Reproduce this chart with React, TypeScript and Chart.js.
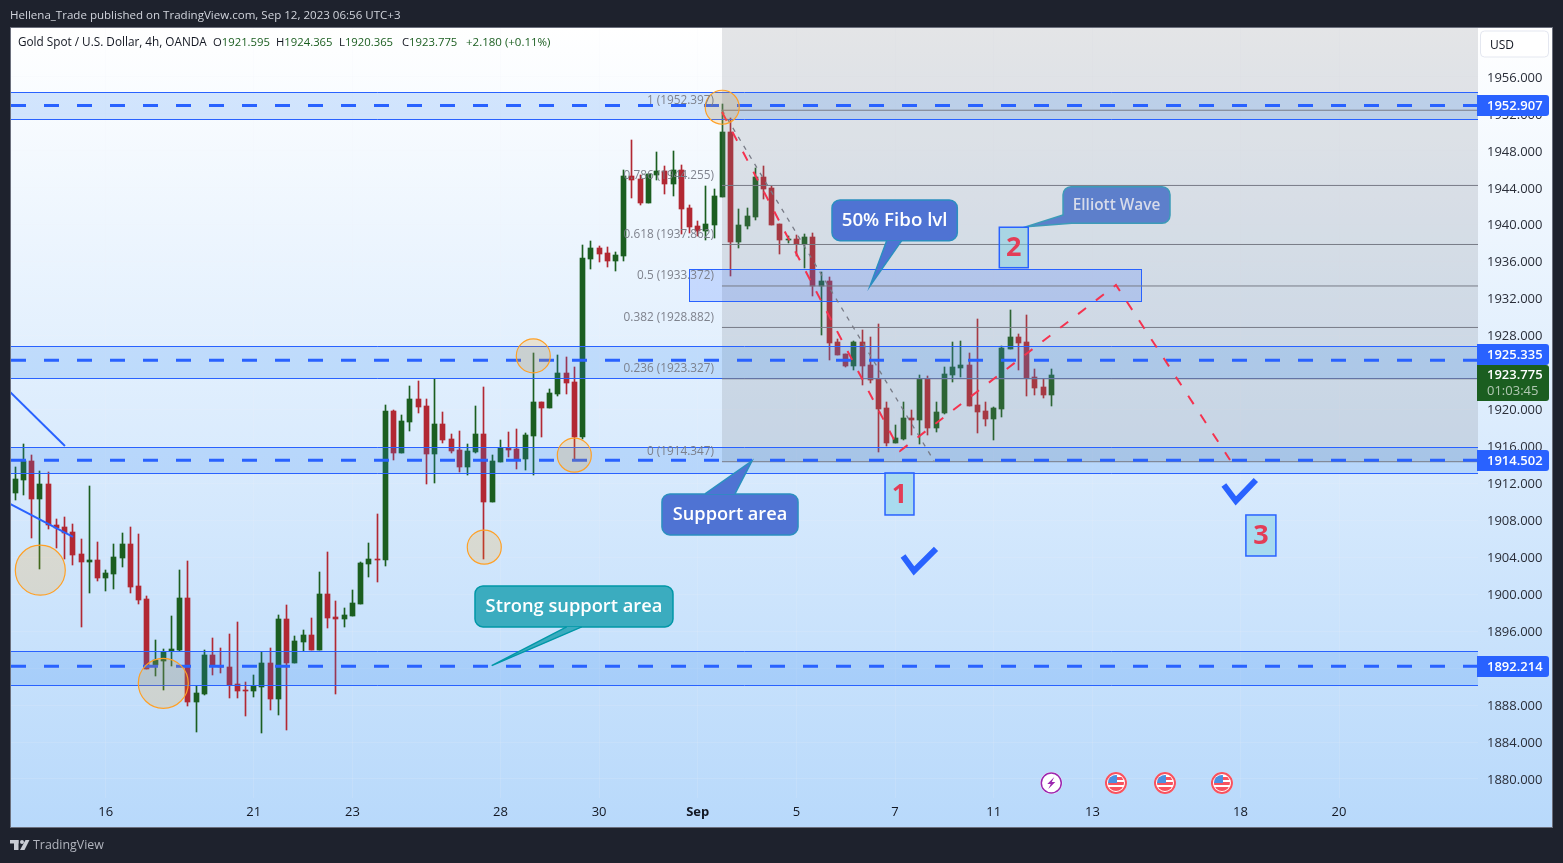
import React, { useEffect, useRef } from "react";
import { Chart, registerables } from "chart.js";

Chart.register(...registerables);

// ---------- candle data (4h bars, index = bar number) ----------
const opens = [
  1911.0, 1912.4, 1914.39, 1910.35, 1911.93, 1907.49, 1907.28, 1906.74, 1904.35, 1903.52,
  1903.7, 1901.79, 1902.23, 1903.96, 1905.44, 1900.89, 1899.48, 1892.34, 1892.81, 1893.85,
  1893.96, 1899.59, 1888.37, 1889.23, 1893.42, 1892.23, 1892.12, 1890.28, 1889.63, 1889.56,
  1889.99, 1892.55, 1888.69, 1897.32, 1892.59, 1894.83, 1895.59, 1893.96, 1900.03, 1897.54,
  1897.32, 1897.65, 1898.95, 1903.28, 1903.82, 1903.71, 1919.84, 1915.29, 1918.65, 1921.14,
  1920.38, 1915.19, 1918.43, 1916.81, 1915.62, 1913.78, 1915.4, 1917.35, 1909.99, 1914.32,
  1915.84, 1915.73, 1914.64, 1917.13, 1920.82, 1920.17, 1921.68, 1923.96, 1922.98, 1917.03,
  1936.3, 1937.49, 1936.94, 1936.08, 1936.62, 1945.28, 1944.96, 1942.36, 1945.39, 1945.82,
  1944.42, 1945.93, 1941.82, 1939.87, 1939.33, 1939.98, 1943.01, 1950.05, 1938.14, 1939.87,
  1940.84, 1945.18, 1943.98, 1940.08, 1938.35, 1938.46, 1937.92, 1938.67, 1933.37, 1933.91,
  1927.31, 1926.01, 1924.71, 1927.31, 1924.82, 1923.3, 1920.16, 1916.37, 1916.81, 1919.08,
  1918.86, 1923.3, 1918.0, 1919.62, 1923.74, 1924.5, 1924.82, 1920.49, 1919.84, 1918.97,
  1920.06, 1926.55, 1927.85, 1927.31, 1923.52, 1922.44, 1921.595,
];
const highs = [
  1913.77, 1916.26, 1915.07, 1913.3, 1913.23, 1908.14, 1908.36, 1907.6, 1905.98, 1911.72,
  1905.65, 1902.62, 1905.44, 1906.63, 1907.28, 1906.52, 1899.81, 1895.04, 1894.07, 1897.64,
  1902.62, 1903.6, 1890.06, 1893.96, 1895.26, 1894.18, 1895.69, 1896.99, 1890.5, 1891.25,
  1893.74, 1894.18, 1897.75, 1898.83, 1895.48, 1896.13, 1897.43, 1902.41, 1904.57, 1899.27,
  1898.51, 1900.46, 1903.49, 1905.55, 1908.69, 1920.49, 1919.95, 1919.41, 1922.55, 1923.09,
  1921.14, 1923.31, 1919.73, 1917.35, 1917.68, 1916.27, 1920.38, 1922.44, 1915.08, 1916.7,
  1917.57, 1917.89, 1917.46, 1926.11, 1920.82, 1922.22, 1925.9, 1925.68, 1924.6, 1937.81,
  1938.24, 1937.7, 1937.59, 1937.05, 1945.93, 1949.18, 1945.39, 1945.5, 1947.88, 1946.36,
  1947.99, 1946.47, 1942.14, 1940.41, 1944.2, 1943.87, 1953.08, 1951.56, 1941.71, 1941.82,
  1946.15, 1946.36, 1944.2, 1940.08, 1938.78, 1938.89, 1939.0, 1939.11, 1934.88, 1934.34,
  1927.63, 1926.01, 1927.42, 1928.61, 1927.85, 1929.26, 1920.81, 1918.32, 1920.81, 1919.95,
  1923.74, 1923.63, 1920.81, 1924.6, 1927.31, 1927.42, 1926.12, 1929.8, 1920.81, 1920.27,
  1926.88, 1930.77, 1928.18, 1930.23, 1924.39, 1923.3, 1924.365,
];
const lows = [
  1910.24, 1910.78, 1906.12, 1902.77, 1907.1, 1905.04, 1903.85, 1903.2, 1896.49, 1900.17,
  1901.47, 1900.38, 1900.6, 1902.98, 1900.17, 1898.98, 1891.94, 1891.18, 1889.67, 1892.26,
  1893.85, 1887.93, 1885.12, 1889.12, 1891.29, 1891.51, 1888.8, 1888.8, 1886.85, 1888.91,
  1885.01, 1887.5, 1886.96, 1885.34, 1892.59, 1893.86, 1893.96, 1893.96, 1896.35, 1889.24,
  1896.46, 1897.65, 1898.95, 1901.87, 1901.33, 1903.06, 1914.54, 1915.29, 1917.68, 1919.62,
  1911.94, 1912.05, 1916.38, 1915.29, 1913.24, 1912.91, 1915.29, 1903.82, 1909.99, 1914.32,
  1914.86, 1913.56, 1913.45, 1912.91, 1917.03, 1920.17, 1921.47, 1921.68, 1914.64, 1916.81,
  1935.21, 1935.97, 1935.43, 1935.0, 1936.08, 1942.9, 1942.14, 1942.36, 1944.85, 1943.33,
  1943.12, 1939.0, 1939.11, 1938.79, 1938.35, 1938.57, 1943.01, 1934.45, 1937.49, 1939.54,
  1940.52, 1942.79, 1939.97, 1936.83, 1938.02, 1936.62, 1935.32, 1932.29, 1928.07, 1925.36,
  1925.9, 1924.6, 1924.28, 1922.65, 1922.87, 1915.4, 1916.05, 1916.37, 1916.7, 1917.24,
  1916.27, 1917.24, 1917.57, 1919.51, 1922.98, 1923.52, 1920.38, 1917.46, 1918.22, 1916.7,
  1919.19, 1926.55, 1924.28, 1921.46, 1921.57, 1921.25, 1920.365,
];
const closes = [
  1912.47, 1914.39, 1910.35, 1911.93, 1907.46, 1907.21, 1906.63, 1904.28, 1903.52, 1903.7,
  1901.79, 1902.3, 1904.03, 1905.44, 1900.82, 1899.41, 1891.94, 1892.88, 1893.78, 1894.07,
  1899.59, 1888.37, 1889.31, 1893.42, 1892.23, 1892.08, 1890.17, 1889.56, 1889.56, 1890.06,
  1892.55, 1888.69, 1897.32, 1892.59, 1894.94, 1895.59, 1893.96, 1900.03, 1897.43, 1897.32,
  1897.75, 1899.05, 1903.38, 1903.82, 1903.71, 1919.84, 1915.29, 1918.76, 1921.14, 1920.27,
  1915.19, 1918.43, 1916.7, 1915.51, 1913.78, 1915.51, 1917.35, 1909.99, 1914.43, 1915.84,
  1915.62, 1914.64, 1917.24, 1920.82, 1920.17, 1921.79, 1923.96, 1922.87, 1917.03, 1936.4,
  1937.49, 1936.84, 1936.08, 1936.73, 1945.28, 1944.85, 1942.36, 1945.5, 1945.82, 1944.42,
  1945.93, 1941.71, 1939.76, 1939.33, 1940.09, 1943.12, 1950.05, 1938.14, 1939.98, 1940.95,
  1945.18, 1943.87, 1939.97, 1938.35, 1938.46, 1937.92, 1938.67, 1933.37, 1933.91, 1927.2,
  1925.9, 1924.71, 1927.31, 1924.71, 1923.2, 1920.06, 1916.37, 1916.92, 1919.08, 1918.86,
  1923.3, 1918.0, 1919.73, 1923.85, 1924.6, 1924.82, 1920.38, 1919.73, 1918.97, 1920.16,
  1926.66, 1927.85, 1927.2, 1923.41, 1922.33, 1921.57, 1923.775,
];

// ---------- axes ----------
const xTickBars = [11, 29, 41, 59, 71, 83, 95, 107, 119, 131, 149, 161];
const xTickLabels = ["16", "21", "23", "28", "30", "Sep", "5", "7", "11", "13", "18", "20"];
const yTickValues = [
  1880, 1884, 1888, 1892, 1896, 1900, 1904, 1908, 1912, 1916, 1920, 1924, 1928, 1932, 1936, 1940, 1944,
  1948, 1952, 1956,
];

// ---------- horizontal levels and zones ----------
const levelPrices = [1952.907, 1925.335, 1914.502, 1892.214];
const zoneTops = [1954.32, 1926.88, 1915.91, 1893.83];
const zoneBottoms = [1951.4, 1923.38, 1913.1, 1890.15];

// ---------- fibonacci ----------
const fibRatios = ["1", "0.786", "0.618", "0.5", "0.382", "0.236", "0"];
const fibPrices = [1952.397, 1944.255, 1937.862, 1933.372, 1928.882, 1923.327, 1914.347];
const fibStartBar = 85.95;

// ---------- drawings (bar index, price) ----------
const wavePath = [
  [85.95, 1952.21],
  [107.6, 1915.51],
  [133.87, 1933.48],
  [147.74, 1914.54],
];
const trendPath = [
  [85.95, 1952.43],
  [111.74, 1914.43],
];
const leftLineA = [
  [-0.64, 1921.9],
  [6.04, 1916.05],
];
const leftLineB = [
  [-0.64, 1909.77],
  [7.02, 1906.2],
];
const checkA = [
  [107.97, 1904.14],
  [109.3, 1902.52],
  [111.98, 1904.9],
];
const checkB = [
  [146.99, 1911.83],
  [148.45, 1910.1],
  [150.88, 1912.37],
];
const circleBars = [3.04, 18.0, 57.04, 67.99, 63.0, 85.98];
const circlePrices = [1902.6, 1890.36, 1905.09, 1915.05, 1925.8, 1952.72];
const circleRadii = [25, 25, 17, 17, 17, 17];
const fiboBox = { x0: 81.94, x1: 136.91, top: 1935.16, bottom: 1931.7 };
const eventBars = [126, 133.87, 139.83, 146.76];

const callouts = [
  {
    text: "50% Fibo lvl", x0: 99.33, x1: 114.57, top: 1942.68, bottom: 1938.28,
    tail: [[105.98, 1938.28], [103.95, 1933.37], [107.81, 1938.28]],
    fill: "#4f73d3", stroke: "#2b8fc0", color: "#ffffff", size: 18.7,
  },
  {
    text: "Elliott Wave", x0: 127.43, x1: 140.44, top: 1944.12, bottom: 1940.16,
    tail: [[127.43, 1941.06], [122.93, 1939.79], [128.49, 1940.16]],
    fill: "#5d7fcb", stroke: "#3d9bb8", color: "#d7dbea", size: 15.4,
  },
  {
    text: "Support area", x0: 78.65, x1: 95.2, top: 1910.86, bottom: 1906.42,
    tail: [[83.88, 1910.86], [89.6, 1914.43], [87.53, 1910.86]],
    fill: "#4f73d3", stroke: "#2b8fc0", color: "#ffffff", size: 18.2,
  },
  {
    text: "Strong support area", x0: 55.91, x1: 79.99, top: 1900.9, bottom: 1896.46,
    tail: [[67.06, 1896.46], [57.94, 1892.27], [68.89, 1896.46]],
    fill: "#3bacbf", stroke: "#0097a7", color: "#ffffff", size: 18.3,
  },
];
const waveBoxes = [
  { text: "1", x0: 105.78, x1: 109.3, top: 1913.13, bottom: 1908.58 },
  { text: "2", x0: 119.68, x1: 123.2, top: 1939.73, bottom: 1935.35 },
  { text: "3", x0: 149.67, x1: 153.32, top: 1908.58, bottom: 1904.14 },
];

const headerText = "Hellena_Trade published on TradingView.com, Sep 12, 2023 06:56 UTC+3";
const symbolText = "Gold Spot / U.S. Dollar, 4h, OANDA";
const ohlcLabels = ["O", "H", "L", "C"];
const ohlcValues = ["1921.595", "1924.365", "1920.365", "1923.775"];
const changeText = "+2.180 (+0.11%)";
const priceBadges = ["1952.907", "1925.335", "1914.502", "1892.214"];
const lastPriceText = "1923.775";
const countdownText = "01:03:45";

const FONT = '"Open Sans", "Noto Sans", sans-serif';
const GREEN = "#1b5e20";
const RED = "#b22833";
const BLUE = "#2962ff";
const XMIN = -0.523;
const XMAX = 177.9;
const YMIN = 1877.94;
const YMAX = 1961.3;
// the platform nudges the labels so they do not collide with the last-price tag
const BADGE_SHIFTS = [0, -5.5, 0.5, 0.5];

const toPoints = (arr: number[][]) => arr.map(([x, y]) => ({ x, y }));
const flat = (y: number, x0 = XMIN, x1 = XMAX) => [
  { x: x0, y },
  { x: x1, y },
];

function roundRectPath(c: CanvasRenderingContext2D, x: number, y: number, w: number, h: number, r: any) {
  c.beginPath();
  c.roundRect(x, y, w, h, r);
}

const overlayPlugin = {
  id: "tvOverlay",
  afterDatasetsUpdate(chart: any) {
    // candles sit on whole pixels, as on the trading platform
    chart.data.datasets.forEach((ds: any, i: number) => {
      if (ds.label !== "Wicks" && ds.label !== "Bodies") return;
      chart.getDatasetMeta(i).data.forEach((el: any) => {
        el.x = Math.floor(el.x) + 0.5;
        const top = Math.round(Math.min(el.y, el.base));
        const bottom = Math.round(Math.max(el.y, el.base));
        el.y = top;
        el.base = Math.max(bottom, top + 1);
      });
    });
  },
  beforeDraw(chart: any) {
    const c: CanvasRenderingContext2D = chart.ctx;
    c.save();
    c.fillStyle = "#1e222d";
    c.fillRect(0, 0, chart.width, chart.height);
    const g = c.createLinearGradient(0, 28, 0, 828);
    g.addColorStop(0, "#ffffff");
    g.addColorStop(1, "#b8d9fb");
    c.fillStyle = g;
    c.fillRect(11, 28, 1542, 799);
    c.strokeStyle = "#6b6f7c";
    c.lineWidth = 1;
    c.strokeRect(10.5, 27.5, 1542, 800);
    c.fillStyle = "#d1d4dc";
    c.font = `11.55px ${FONT}`;
    c.textBaseline = "middle";
    c.textAlign = "left";
    c.fillText(headerText, 10, 15.5);
    c.restore();
  },
  beforeDatasetDraw(chart: any, args: any) {
    if (chart.data.datasets[args.index].label !== "Fib levels") return;
    const c: CanvasRenderingContext2D = chart.ctx;
    const { x, y } = chart.scales;
    const area = chart.chartArea;
    c.save();
    // fib background
    const fx = x.getPixelForValue(fibStartBar);
    const fy = y.getPixelForValue(fibPrices[fibPrices.length - 1]);
    c.fillStyle = "rgba(120,123,134,0.2)";
    c.fillRect(fx, area.top, area.right - fx, fy - area.top);
    // zones
    zoneTops.forEach((top, i) => {
      const y0 = Math.round(y.getPixelForValue(top)) + 0.5;
      const y1 = Math.round(y.getPixelForValue(zoneBottoms[i])) + 0.5;
      c.fillStyle = "rgba(33,130,243,0.18)";
      c.fillRect(area.left, y0, area.right - area.left, y1 - y0);
      c.strokeStyle = BLUE;
      c.lineWidth = 1;
      c.beginPath();
      c.moveTo(area.left, y0);
      c.lineTo(area.right, y0);
      c.moveTo(area.left, y1);
      c.lineTo(area.right, y1);
      c.stroke();
    });
    // 50% box
    const bx0 = x.getPixelForValue(fiboBox.x0);
    const bx1 = x.getPixelForValue(fiboBox.x1);
    const by0 = y.getPixelForValue(fiboBox.top);
    const by1 = y.getPixelForValue(fiboBox.bottom);
    c.fillStyle = "rgba(41,98,255,0.18)";
    c.fillRect(bx0, by0, bx1 - bx0, by1 - by0);
    c.strokeStyle = BLUE;
    c.strokeRect(Math.round(bx0) + 0.5, Math.round(by0) + 0.5, Math.round(bx1 - bx0), Math.round(by1 - by0));
    c.restore();
  },
  afterDatasetsDraw(chart: any) {
    const c: CanvasRenderingContext2D = chart.ctx;
    const { x, y } = chart.scales;
    c.save();
    // fib labels
    c.font = `11.8px ${FONT}`;
    c.textAlign = "right";
    c.textBaseline = "middle";
    c.fillStyle = "rgba(120,123,134,0.95)";
    fibPrices.forEach((p, i) => {
      c.fillText(`${fibRatios[i]} (${p.toFixed(3)})`, 714, y.getPixelForValue(p) - 10);
    });
    // callouts
    callouts.forEach((b) => {
      const bx = x.getPixelForValue(b.x0);
      const bw = x.getPixelForValue(b.x1) - bx;
      const by = y.getPixelForValue(b.top);
      const bh = y.getPixelForValue(b.bottom) - by;
      c.fillStyle = b.fill;
      c.strokeStyle = b.stroke;
      c.lineWidth = 1.5;
      roundRectPath(c, bx, by, bw, bh, 8);
      c.fill();
      c.stroke();
      const pts = b.tail.map(([tx, ty]) => [x.getPixelForValue(tx), y.getPixelForValue(ty)]);
      c.beginPath();
      c.moveTo(pts[0][0], pts[0][1]);
      c.lineTo(pts[1][0], pts[1][1]);
      c.lineTo(pts[2][0], pts[2][1]);
      c.closePath();
      c.fill();
      c.beginPath();
      c.moveTo(pts[0][0], pts[0][1]);
      c.lineTo(pts[1][0], pts[1][1]);
      c.lineTo(pts[2][0], pts[2][1]);
      c.stroke();
      c.fillStyle = b.color;
      c.font = `600 ${b.size}px ${FONT}`;
      c.textAlign = "center";
      c.fillText(b.text, bx + bw / 2, by + bh / 2 + 0.5);
    });
    // wave number boxes
    waveBoxes.forEach((b) => {
      const bx = x.getPixelForValue(b.x0);
      const bw = x.getPixelForValue(b.x1) - bx;
      const by = y.getPixelForValue(b.top);
      const bh = y.getPixelForValue(b.bottom) - by;
      c.fillStyle = "rgba(125,205,225,0.5)";
      c.fillRect(bx, by, bw, bh);
      c.strokeStyle = BLUE;
      c.lineWidth = 1.5;
      c.strokeRect(bx, by, bw, bh);
      c.fillStyle = "#e33d56";
      c.font = `bold 27px ${FONT}`;
      c.textAlign = "center";
      c.fillText(b.text, bx + bw / 2, by + bh / 2 + 1);
    });
    c.restore();
  },
  afterDraw(chart: any) {
    const c: CanvasRenderingContext2D = chart.ctx;
    const { x, y } = chart.scales;
    c.save();
    c.textBaseline = "middle";
    // legend line
    c.font = `11.75px ${FONT}`;
    c.textAlign = "left";
    c.fillStyle = "#131722";
    c.fillText(symbolText, 18, 42.5);
    c.font = `11.3px ${FONT}`;
    const starts = [213, 276, 339, 402];
    ohlcLabels.forEach((l, i) => {
      c.fillStyle = "#131722";
      c.fillText(l, starts[i], 42.5);
      const w = c.measureText(l).width;
      c.fillStyle = GREEN;
      c.fillText(ohlcValues[i], starts[i] + w, 42.5);
    });
    c.fillStyle = GREEN;
    c.font = `11.5px ${FONT}`;
    c.fillText(changeText, 466, 42.5);

    // USD button
    c.fillStyle = "#ffffff";
    c.strokeStyle = "#e4e7f0";
    c.lineWidth = 1;
    roundRectPath(c, 1480.5, 31, 68, 26, 4);
    c.fill();
    c.stroke();
    c.fillStyle = "#131722";
    c.font = `12px ${FONT}`;
    c.fillText("USD", 1490, 45.5);

    // price badges
    c.textAlign = "left";
    levelPrices.forEach((p, i) => {
      const cy = y.getPixelForValue(p) + BADGE_SHIFTS[i];
      const top = Math.round(cy - 10.5);
      c.fillStyle = BLUE;
      roundRectPath(c, 1477, top, 72, 21, [0, 3, 3, 0]);
      c.fill();
      c.fillStyle = "#ffffff";
      c.font = `600 13px ${FONT}`;
      c.fillText(priceBadges[i], 1487, top + 11.5);
    });
    c.fillStyle = GREEN;
    roundRectPath(c, 1477, 365, 72, 36, [0, 3, 3, 0]);
    c.fill();
    c.fillStyle = "#ffffff";
    c.font = `600 13px ${FONT}`;
    c.fillText(lastPriceText, 1487, 375.5);
    c.fillStyle = "rgba(255,255,255,0.65)";
    c.font = `13px ${FONT}`;
    c.fillText(countdownText, 1487, 391.5);

    // event icons
    eventBars.forEach((b, i) => {
      const cx = x.getPixelForValue(b);
      const cy = 783;
      c.fillStyle = "#ffffff";
      c.beginPath();
      c.arc(cx, cy, 11, 0, Math.PI * 2);
      c.fill();
      if (i === 0) {
        c.strokeStyle = "#9c27b0";
        c.lineWidth = 1.5;
        c.beginPath();
        c.arc(cx, cy, 10, 0, Math.PI * 2);
        c.stroke();
        c.fillStyle = "#9c27b0";
        c.beginPath();
        c.moveTo(cx + 3, cy - 6);
        c.lineTo(cx - 4, cy + 1);
        c.lineTo(cx - 0.5, cy + 1);
        c.lineTo(cx - 3, cy + 6);
        c.lineTo(cx + 4, cy - 1);
        c.lineTo(cx + 0.5, cy - 1);
        c.closePath();
        c.fill();
      } else {
        c.save();
        c.beginPath();
        c.arc(cx, cy, 8, 0, Math.PI * 2);
        c.clip();
        c.fillStyle = "#ffffff";
        c.fillRect(cx - 8, cy - 8, 16, 16);
        c.fillStyle = "#f7525f";
        c.fillRect(cx - 8, cy - 6, 16, 3);
        c.fillRect(cx - 8, cy - 1, 16, 3);
        c.fillRect(cx - 8, cy + 4, 16, 4);
        c.fillStyle = "#4a90e2";
        c.fillRect(cx - 8, cy - 8, 9, 8);
        c.restore();
        c.strokeStyle = "#f7525f";
        c.lineWidth = 2;
        c.beginPath();
        c.arc(cx, cy, 10, 0, Math.PI * 2);
        c.stroke();
      }
    });

    // TradingView mark
    c.fillStyle = "#c9ccd4";
    c.fillRect(10, 840, 8.5, 3.5);
    c.fillRect(14, 840, 4.5, 10);
    c.beginPath();
    c.arc(22, 842, 2, 0, Math.PI * 2);
    c.fill();
    c.beginPath();
    c.moveTo(25.5, 840);
    c.lineTo(29.5, 840);
    c.lineTo(24.5, 850);
    c.lineTo(20, 850);
    c.closePath();
    c.fill();
    c.fillStyle = "#b2b5be";
    c.font = `12.4px ${FONT}`;
    c.textAlign = "left";
    c.fillText("TradingView", 33, 845.5);
    c.restore();
  },
};

export default function App() {
  const ref = useRef<HTMLCanvasElement | null>(null);

  useEffect(() => {
    document.body.style.margin = "0";
    document.body.style.background = "#1e222d";
    const bars = opens.map((_, i) => i);
    const colors = opens.map((o, i) => (closes[i] >= o ? GREEN : RED));
    const lineBase = { type: "line", pointRadius: 0, pointHoverRadius: 0, fill: false, tension: 0 };

    const chart = new Chart(ref.current as HTMLCanvasElement, {
      type: "bar",
      plugins: [overlayPlugin],
      data: {
        datasets: [
          {
            label: "Wicks",
            order: 20,
            data: bars.map((i) => ({ x: i, y: [lows[i], highs[i]] })),
            backgroundColor: colors,
            barThickness: 1,
            grouped: false,
            borderWidth: 0,
            borderSkipped: false,
          },
          {
            label: "Bodies",
            order: 19,
            data: bars.map((i) => ({ x: i, y: [opens[i], closes[i]] })),
            backgroundColor: colors,
            barThickness: 5,
            grouped: false,
            borderWidth: 0,
            borderSkipped: false,
            minBarLength: 1,
          },
          ...fibPrices.map((p, i) => ({
            ...lineBase,
            label: i === 0 ? "Fib levels" : `Fib ${fibRatios[i]}`,
            order: i === 0 ? 12 : 11,
            data: flat(p, fibStartBar),
            borderColor: "#787b86",
            borderWidth: 1,
          })),
          ...levelPrices.map((p) => ({
            ...lineBase,
            label: `Level ${p}`,
            order: 10,
            data: flat(p),
            borderColor: BLUE,
            borderWidth: 3,
            borderDash: [15, 18],
          })),
          { ...lineBase, label: "Left line A", order: 9, data: toPoints(leftLineA), borderColor: BLUE, borderWidth: 2 },
          { ...lineBase, label: "Left line B", order: 9, data: toPoints(leftLineB), borderColor: BLUE, borderWidth: 2 },
          {
            ...lineBase,
            label: "Fib trend",
            order: 8,
            data: toPoints(trendPath),
            borderColor: "#787b86",
            borderWidth: 1.3,
            borderDash: [4.5, 6],
          },
          {
            ...lineBase,
            label: "Wave",
            order: 7,
            data: toPoints(wavePath),
            borderColor: "#f5324f",
            borderWidth: 2,
            borderDash: [10, 12.5],
          },
          { ...lineBase, label: "Check A", order: 6, data: toPoints(checkA), borderColor: BLUE, borderWidth: 6, borderJoinStyle: "miter" },
          { ...lineBase, label: "Check B", order: 6, data: toPoints(checkB), borderColor: BLUE, borderWidth: 6, borderJoinStyle: "miter" },
          {
            type: "line",
            label: "Circles",
            order: 5,
            showLine: false,
            data: circleBars.map((b, i) => ({ x: b, y: circlePrices[i] })),
            pointRadius: circleRadii,
            pointHoverRadius: circleRadii,
            pointBackgroundColor: "rgba(255,152,0,0.17)",
            pointBorderColor: "#ffa025",
            pointBorderWidth: 1.2,
          },
        ],
      },
      options: {
        animation: false,
        responsive: false,
        events: [],
        layout: { autoPadding: false, padding: { left: 11, top: 28, right: 10, bottom: 36 } },
        plugins: { legend: { display: false }, tooltip: { enabled: false }, title: { display: false } },
        scales: {
          x: {
            type: "linear",
            offset: false,
            min: XMIN,
            max: XMAX,
            grid: { offset: false, color: "rgba(240,243,250,0.15)", drawTicks: false },
            border: { display: false },
            afterBuildTicks(axis: any) {
              axis.ticks = xTickBars.map((value) => ({ value }));
            },
            afterFit(axis: any) {
              axis.height = 29;
              axis.paddingLeft = 0;
              axis.paddingRight = 0;
            },
            ticks: {
              autoSkip: false,
              maxRotation: 0,
              padding: 6,
              color: "#131722",
              font: (ctx: any) => ({
                family: FONT,
                size: 13,
                weight: ctx.tick && ctx.tick.value === 83 ? "bold" : "normal",
              }),
              callback: (v: any) => xTickLabels[xTickBars.indexOf(v)],
            },
          },
          y: {
            type: "linear",
            position: "right",
            min: YMIN,
            max: YMAX,
            grid: { color: "rgba(240,243,250,0.15)", drawTicks: false },
            border: { display: false },
            afterBuildTicks(axis: any) {
              axis.ticks = yTickValues.map((value) => ({ value }));
            },
            afterFit(axis: any) {
              axis.width = 75;
              axis.paddingTop = 0;
              axis.paddingBottom = 0;
            },
            ticks: {
              autoSkip: false,
              padding: 9,
              labelOffset: 1,
              color: "#2a2e39",
              font: { family: FONT, size: 13 },
              callback: (v: any) => Number(v).toFixed(3),
            },
          },
        },
      },
    } as any);
    return () => chart.destroy();
  }, []);

  return <canvas ref={ref} width={1563} height={863} style={{ display: "block" }} />;
}
